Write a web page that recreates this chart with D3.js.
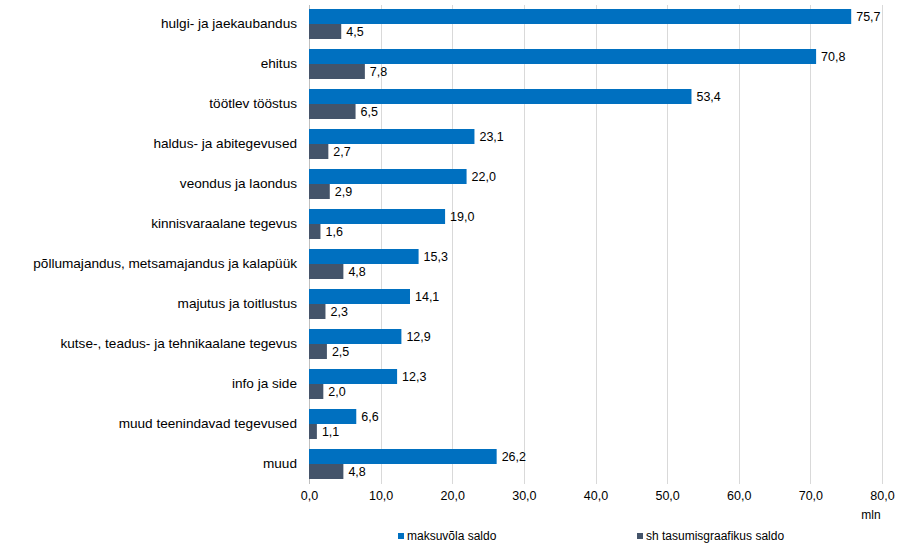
<!DOCTYPE html>
<html>
<head>
<meta charset="utf-8">
<script src="https://cdn.jsdelivr.net/npm/d3@7"></script>
<style>
  body { margin: 0; background: #fff; }
  text { font-family: "Liberation Sans", Arial, sans-serif; fill: #000; }
</style>
</head>
<body>
<div class="chart"></div>
<script>
// data
var categories = [
  'hulgi- ja jaekaubandus',
  'ehitus',
  'töötlev tööstus',
  'haldus- ja abitegevused',
  'veondus ja laondus',
  'kinnisvaraalane tegevus',
  'põllumajandus, metsamajandus ja kalapüük',
  'majutus ja toitlustus',
  'kutse-, teadus- ja tehnikaalane tegevus',
  'info ja side',
  'muud teenindavad tegevused',
  'muud'
];
var maksuvola = [75.7, 70.8, 53.4, 23.1, 22.0, 19.0, 15.3, 14.1, 12.9, 12.3, 6.6, 26.2];
var tasumisgraafik = [4.5, 7.8, 6.5, 2.7, 2.9, 1.6, 4.8, 2.3, 2.5, 2.0, 1.1, 4.8];
var seriesNames = ['maksuvõla saldo', 'sh tasumisgraafikus saldo'];
var colors = ['#0070C0', '#44546A'];
var ticks = [0, 10, 20, 30, 40, 50, 60, 70, 80];

var width = 901;
var height = 550;
var fmt = function (v) { return v.toFixed(1).replace('.', ','); };

var svg = d3.select('.chart').append('svg')
  .attr('width', width)
  .attr('height', height);

var x = d3.scaleLinear().domain([0, 80]).range([309, 882]);
var y = d3.scaleBand().domain(categories).range([4, 484])
  .paddingInner(0.25).paddingOuter(0.125);
var ySub = d3.scaleBand().domain([0, 1]).range([0, y.bandwidth()]);

// gridlines
svg.append('g').selectAll('line')
  .data(ticks)
  .enter().append('line')
  .attr('x1', function (d) { return Math.round(x(d)) + 0.5; })
  .attr('x2', function (d) { return Math.round(x(d)) + 0.5; })
  .attr('y1', 5)
  .attr('y2', 484)
  .attr('stroke', function (d) { return d === 0 ? '#bfbfbf' : '#d9d9d9'; })
  .attr('stroke-width', 1);

// x axis labels (no axis line)
var xAxis = d3.axisBottom(x).tickValues(ticks).tickFormat(fmt).tickSize(0).tickPadding(0);
var gx = svg.append('g')
  .attr('transform', 'translate(0,491)')
  .call(xAxis);
gx.select('.domain').remove();
gx.selectAll('text')
  .style('font-size', '12.5px')
  .style('font-family', '"Liberation Sans", Arial, sans-serif')
  .attr('fill', '#000');

svg.append('text')
  .attr('x', 871)
  .attr('y', 519)
  .attr('text-anchor', 'middle')
  .style('font-size', '12px')
  .text('mln');

// y axis labels
var yAxis = d3.axisLeft(y).tickSize(0).tickPadding(12);
var gy = svg.append('g')
  .attr('transform', 'translate(309,0)')
  .call(yAxis);
gy.select('.domain').remove();
gy.selectAll('text')
  .style('font-size', '13.6px')
  .style('font-family', '"Liberation Sans", Arial, sans-serif')
  .attr('fill', '#000');

// bars
var series = [maksuvola, tasumisgraafik];
series.forEach(function (vals, si) {
  var g = svg.append('g');
  g.selectAll('rect')
    .data(vals)
    .enter().append('rect')
    .attr('x', x(0))
    .attr('y', function (d, i) { return y(categories[i]) + ySub(si); })
    .attr('width', function (d) { return x(d) - x(0); })
    .attr('height', ySub.bandwidth())
    .attr('fill', colors[si]);

  g.selectAll('text')
    .data(vals)
    .enter().append('text')
    .attr('x', function (d) { return x(d) + 5; })
    .attr('y', function (d, i) { return y(categories[i]) + ySub(si) + ySub.bandwidth() / 2; })
    .attr('dy', '0.35em')
    .style('font-size', '12.5px')
    .text(fmt);
});

// legend
var legendX = [398, 637];
var legend = svg.append('g');
seriesNames.forEach(function (name, i) {
  legend.append('rect')
    .attr('x', legendX[i])
    .attr('y', 533)
    .attr('width', 6)
    .attr('height', 6)
    .attr('fill', colors[i]);
  legend.append('text')
    .attr('x', legendX[i] + 9)
    .attr('y', 540)
    .style('font-size', '12px')
    .text(name);
});
</script>
</body>
</html>
